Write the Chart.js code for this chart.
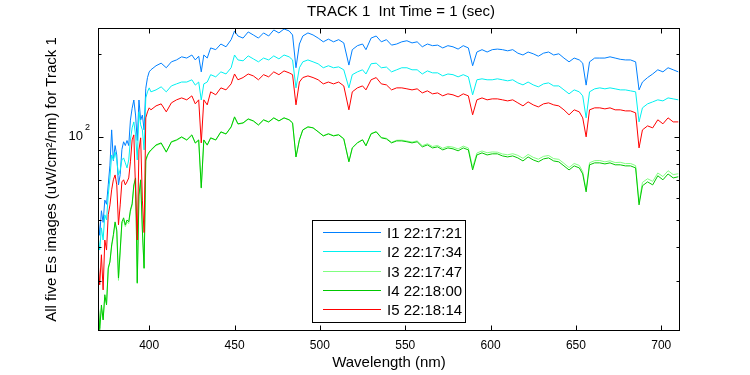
<!DOCTYPE html>
<html>
<head>
<meta charset="utf-8">
<title>TRACK 1  Int Time = 1 (sec)</title>
<script src="https://cdn.jsdelivr.net/npm/chart.js@4.4.0/dist/chart.umd.min.js"></script>
<style>
  html, body { margin: 0; padding: 0; background: #fff; }
  #wrap { width: 750px; height: 375px; }
</style>
</head>
<body>
<div id="wrap"><canvas id="esChart" width="750" height="375"></canvas></div>
<script>
// Es spectra for Track 1

const wavelengths = [
  370, 371, 372, 373, 374, 375, 376, 377, 378, 379,
  380, 381, 382, 383, 384, 385, 386, 387, 388, 389,
  390, 391, 392, 393, 394, 395, 396, 397, 398, 399, 400,
  401, 404, 407, 410, 413, 416, 419, 422, 425, 427,
  429, 430.5, 432, 434, 436, 439, 442, 445, 448, 450,
  452, 455, 458, 461, 464, 467, 470, 473, 476, 479,
  482, 484, 486, 488, 490, 493, 496, 499, 502, 505,
  508, 511, 514, 517, 519, 522, 525, 527, 530, 533,
  536, 539, 542, 545, 548, 551, 554, 557, 560, 563,
  566, 569, 572, 575, 578, 581, 584, 587, 589.5, 592,
  595, 598, 601, 604, 607, 610, 613, 616, 619, 622,
  625, 628, 631, 634, 637, 640, 643, 646, 649, 652,
  654, 656, 658, 661, 664, 667, 670, 673, 676, 679,
  682, 685, 687, 689, 692, 695, 698, 701, 704, 707,
  710
];

const esI1 = [
  52, 44, 54, 49, 59, 57, 67, 79, 106, 82,
  93, 86, 67, 73, 90, 96, 93, 97, 93, 115,
  127, 136, 120, 97, 136, 115, 120, 106, 150, 164, 172,
  175, 181, 185, 178, 187, 190, 195, 193, 198, 190,
  196, 172, 198, 193, 210, 207, 217, 212, 225, 242,
  232, 228, 240, 234, 228, 238, 232, 244, 238, 246,
  242, 234, 178, 217, 232, 238, 234, 228, 221, 226,
  221, 225, 219, 182, 207, 214, 217, 207, 228, 232,
  221, 225, 215, 217, 221, 223, 219, 221, 212, 217,
  214, 215, 210, 214, 212, 208, 214, 210, 181, 203,
  207, 203, 207, 208, 207, 205, 207, 201, 198, 203,
  200, 196, 201, 203, 198, 200, 193, 187, 193, 190,
  185, 154, 187, 193, 193, 193, 195, 193, 191, 190,
  190, 187, 148, 158, 164, 169, 175, 172, 178, 175,
  172
];

const esI2 = [
  44.2, 38.9, 46.8, 42.3, 52.2, 50, 61.6, 71, 86, 82.5,
  88.2, 82.5, 72.8, 75.9, 82.5, 83.9, 80.5, 77.2, 82.5, 97.5,
  107.8, 113.3, 101.7, 82.5, 123.2, 110.5, 106, 89.7, 138.4, 145.6, 150.5,
  145.6, 148, 151.8, 145.6, 153, 155.6, 158, 158, 161, 154,
  158, 136, 155.6, 158, 168, 165, 172, 169, 178, 198,
  190, 188.6, 196.5, 191.7, 187, 193, 190, 196.5, 191.7, 198,
  195, 190, 150.5, 178, 187, 190, 187, 183.9, 178, 181,
  178, 179.3, 175, 150.5, 168, 172, 175, 169, 184, 185,
  178, 179, 172, 175, 178, 178, 175, 175, 169, 173.4,
  170.6, 170.6, 166.3, 169, 168, 165, 168, 165, 142, 161,
  162.3, 161, 161, 162.3, 161, 159.6, 161, 156.9, 154.3, 158,
  154.3, 151.8, 155.6, 156.9, 153, 153, 148, 143.2, 148, 145.6,
  140.8, 117.2, 145.6, 149.3, 150.5, 149.3, 150.5, 149.3, 148, 148,
  146.8, 145.6, 113.3, 127.4, 131.7, 133.9, 136.2, 135, 138.4, 137.3,
  136.2
];

const esI3 = [
  25.2, 20.3, 24.0, 21.9, 26.2, 24.9, 33.0, 35.6, 40.0, 43.6,
  48.5, 45.3, 30.2, 38.3, 48.4, 50.1, 47.3, 49.1, 48.5, 53.6,
  56.5, 66.2, 70.3, 29.4, 60.8, 69.1, 45.5, 33.2, 81.6, 85.4, 87.6,
  89.2, 93.0, 94.6, 87.9, 95.6, 97.1, 99.6, 97.2, 101.2, 94.8,
  97.1, 65.2, 97.2, 93.2, 99.0, 97.3, 104.0, 102.3, 108.4, 117.8,
  111.2, 112.0, 115.8, 114.0, 110.2, 115.0, 113.1, 117.0, 114.1, 117.1,
  115.2, 112.3, 84.5, 97.4, 105.9, 108.6, 107.9, 104.5, 101.0, 102.8,
  101.1, 102.0, 98.6, 81.5, 91.5, 95.4, 97.8, 93.1, 102.9, 104.6,
  99.6, 98.8, 95.6, 97.2, 97.3, 96.6, 95.8, 96.7, 92.9, 94.4,
  92.3, 93.1, 90.9, 92.4, 91.8, 90.4, 92.6, 91.1, 77.4, 87.4,
  88.9, 87.6, 88.2, 88.0, 86.7, 86.1, 86.9, 85.7, 83.6, 86.4,
  84.3, 83.0, 85.0, 85.6, 83.4, 82.9, 80.2, 77.4, 80.1, 78.8,
  74.8, 64.2, 80.6, 82.0, 82.1, 81.2, 81.9, 80.7, 80.9, 80.0,
  80.1, 78.7, 57.9, 68.4, 70.5, 69.0, 74.0, 71.8, 75.4, 73.0,
  73.5
];

const esI4 = [
  25.7, 20, 24.6, 21.7, 26.8, 24.6, 33.5, 35.2, 40.6, 44.2,
  49.2, 46, 30.8, 38.9, 49.2, 50.9, 48, 50, 49.2, 54.4,
  57.2, 67, 71, 29.6, 61.6, 69.9, 46, 33.5, 82.5, 86, 88.2,
  89.7, 93.5, 95.1, 88.2, 96, 97.5, 100, 97.5, 101.7, 95.1,
  97.5, 65.4, 97.5, 93.5, 99.2, 97.5, 104.3, 102.5, 108.7, 118.2,
  111.5, 112.4, 116.2, 114.3, 110.5, 115.3, 113.3, 117.2, 114.3, 117.2,
  115.3, 112.4, 84.6, 97.5, 106, 108.7, 107.8, 104.3, 100.8, 102.5,
  100.8, 101.7, 98.3, 81.2, 91.2, 95.1, 97.5, 92.8, 102.5, 104.3,
  99.2, 98.3, 95.1, 96.7, 96.7, 96, 95.1, 96, 92, 93.5,
  91.2, 92, 89.7, 91.2, 90.5, 89, 91.2, 89.7, 75.9, 86,
  87.5, 86, 86.8, 86.8, 85.3, 84.6, 85.3, 83.9, 81.8, 84.6,
  82.5, 81.2, 83.2, 83.9, 81.8, 81.2, 78.5, 75.9, 78.5, 77.2,
  73.4, 63.2, 79.2, 80.5, 80.5, 79.8, 80.5, 79.2, 79.2, 78.5,
  78.5, 77.2, 56.7, 66.5, 68.7, 67, 72.3, 69.9, 73.4, 71,
  71.7
];

const esI5 = [
  35.8, 29.1, 37.4, 27.9, 42.3, 38.9, 52.2, 56.7, 64.3, 69.9,
  72.8, 67, 48, 56.7, 68.7, 69.9, 67, 68.7, 71, 81.2,
  97.5, 101.7, 64.3, 42.3, 89.7, 99.2, 59, 45, 117.2, 123.2, 127.4,
  125.3, 129.5, 131.7, 123.2, 132.8, 136.2, 138.4, 136.2, 140.8, 131.7,
  136.2, 95.1, 136.2, 130.6, 145.6, 142, 150.5, 148, 155.6, 169,
  161, 164, 169, 166.3, 161, 168, 165, 172, 168, 173.4,
  170.6, 168, 130.6, 158, 164, 166.3, 164, 161, 155.6, 158,
  155.6, 158, 153, 125.3, 145.6, 150.5, 153, 148, 161, 164,
  155.6, 154.3, 148, 150.5, 150.5, 149.3, 148, 149.3, 144.3, 146.8,
  143.2, 144.3, 140.8, 143.2, 142, 139.6, 143.2, 140.8, 120.2, 136.2,
  138.4, 136.2, 137.3, 137.3, 136.2, 135, 136.2, 132.8, 129.5, 133.9,
  130.6, 128.4, 131.7, 132.8, 130.6, 129.5, 125.3, 120.2, 125.3, 123.2,
  117.2, 100, 125.3, 127.4, 127.4, 126.3, 127.4, 125.3, 125.3, 124.2,
  124.2, 122.2, 91.2, 106, 109.6, 107.8, 115.3, 111.5, 117.2, 113.3,
  113.3
];

const seriesLabels = ['I1 22:17:21', 'I2 22:17:34', 'I3 22:17:47', 'I4 22:18:00', 'I5 22:18:14'];
const seriesColors = ['#0080ff', '#00f0f0', '#80ff80', '#00c800', '#ff0000'];

const xTicks = [400, 450, 500, 550, 600, 650, 700];
const yTicks = [20, 30, 40, 50, 60, 70, 80, 90, 100, 200];

const fontFamily = '"Liberation Sans", Arial, Helvetica, sans-serif';
Chart.defaults.font.family = fontFamily;
Chart.defaults.color = '#000';

const allSeries = [esI1, esI2, esI3, esI4, esI5];

// later series are drawn on top, like the original plot
const datasets = allSeries.map((vals, i) => ({
  label: seriesLabels[i],
  data: vals.map((v, k) => ({ x: wavelengths[k], y: v })),
  borderColor: seriesColors[i],
  backgroundColor: seriesColors[i],
  borderWidth: 1,
  pointRadius: 0,
  tension: 0,
  fill: false,
  order: allSeries.length - i
}));

// box, inward tick marks, legend, exponent and title
const framePlugin = {
  id: 'frame',
  afterDatasetsDraw(chart) {
    const { ctx, chartArea: a, scales: { x, y } } = chart;
    const L = Math.round(a.left) + 0.5;
    const R = Math.round(a.right) - 0.5;
    const T = Math.round(a.top) + 0.5;
    const B = Math.round(a.bottom) - 0.5;

    ctx.save();
    ctx.strokeStyle = '#000';
    ctx.lineWidth = 1;
    ctx.strokeRect(L, T, R - L, B - T);

    ctx.beginPath();
    xTicks.forEach(v => {
      const px = Math.round(x.getPixelForValue(v)) + 0.5;
      ctx.moveTo(px, B); ctx.lineTo(px, B - 5);
      ctx.moveTo(px, T); ctx.lineTo(px, T + 5);
    });
    yTicks.forEach(v => {
      const py = Math.round(y.getPixelForValue(v)) + 0.5;
      const len = (v === 100) ? 5 : 3;
      ctx.moveTo(L, py); ctx.lineTo(L + len, py);
      ctx.moveTo(R, py); ctx.lineTo(R - len, py);
    });
    ctx.stroke();

    // exponent of the 10^2 label
    ctx.fillStyle = '#000';
    ctx.font = '9px ' + fontFamily;
    ctx.textAlign = 'left';
    ctx.textBaseline = 'middle';
    ctx.fillText('2', 85, y.getPixelForValue(100) - 9);

    // legend
    const lx = 312.5, ly = 220.5, lw = 153, lh = 102;
    ctx.fillStyle = '#fff';
    ctx.fillRect(lx, ly, lw, lh);
    ctx.strokeRect(lx, ly, lw, lh);
    ctx.font = '15px ' + fontFamily;
    chart.data.datasets.forEach((ds, i) => {
      const yy = Math.round(232 + i * 19.25) + 0.5;
      ctx.strokeStyle = ds.borderColor;
      ctx.beginPath();
      ctx.moveTo(323, yy); ctx.lineTo(381, yy);
      ctx.stroke();
      ctx.fillStyle = '#000';
      ctx.fillText(ds.label, 387, yy + 1);
    });
    ctx.restore();
  },
  afterDraw(chart) {
    const { ctx } = chart;
    ctx.save();
    ctx.font = '15px ' + fontFamily;
    ctx.fillStyle = '#000';
    ctx.textAlign = 'center';
    ctx.textBaseline = 'middle';
    ctx.fillText('TRACK 1  Int Time = 1 (sec)', 401, 12);
    ctx.restore();
  }
};

new Chart(document.getElementById('esChart'), {
  type: 'line',
  data: { datasets: datasets },
  plugins: [framePlugin],
  options: {
    responsive: false,
    animation: false,
    layout: { padding: { left: 30, right: 70, top: 28, bottom: 0 } },
    plugins: {
      legend: { display: false },
      title: { display: false },
      tooltip: { enabled: false }
    },
    scales: {
      x: {
        type: 'linear',
        min: 370,
        max: 711,
        afterBuildTicks: scale => { scale.ticks = xTicks.map(v => ({ value: v })); },
        afterFit: scale => { scale.height = 44; },
        grid: { display: false, drawTicks: false },
        border: { display: false },
        ticks: { padding: 7, font: { size: 12 }, color: '#000' },
        title: {
          display: true,
          text: 'Wavelength (nm)',
          font: { size: 15 },
          color: '#000',
          padding: { top: 0, bottom: 3 }
        }
      },
      y: {
        type: 'logarithmic',
        min: 19.8,
        max: 248,
        afterBuildTicks: scale => { scale.ticks = yTicks.map(v => ({ value: v })); },
        afterFit: scale => { scale.width = 68; },
        grid: { display: false, drawTicks: false },
        border: { display: false },
        ticks: {
          padding: 15,
          font: { size: 13 },
          color: '#000',
          callback: v => (v === 100 ? '10' : '')
        },
        title: {
          display: true,
          text: 'All five Es images (uW/cm\u00B2/nm) for Track 1',
          font: { size: 15 },
          color: '#000',
          padding: { top: 13, bottom: 0 }
        }
      }
    }
  }
});
</script>
</body>
</html>
